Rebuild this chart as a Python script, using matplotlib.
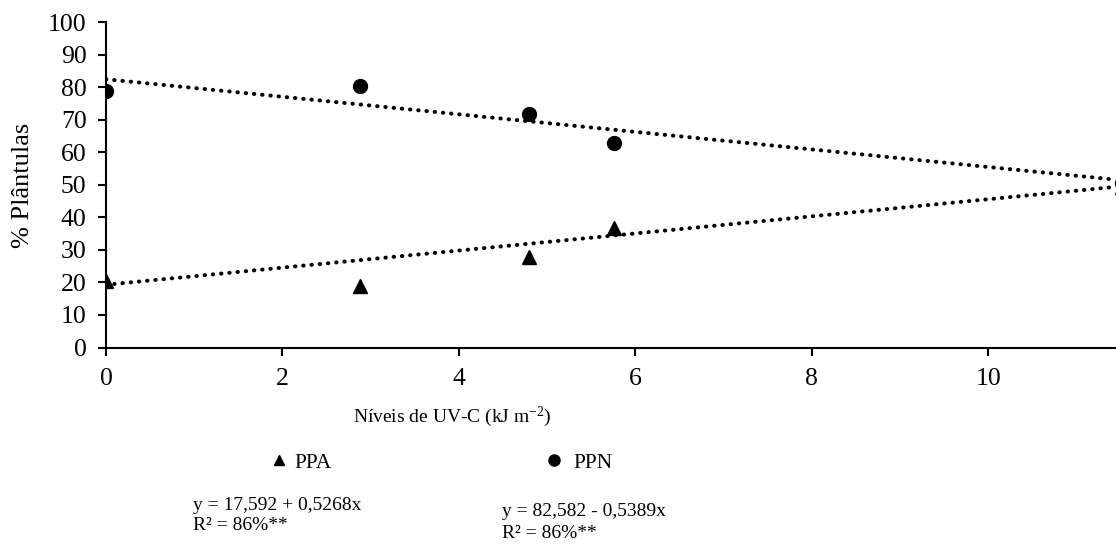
import matplotlib
matplotlib.use("Agg")
import matplotlib.pyplot as plt
from matplotlib.lines import Line2D

plt.rcParams["font.family"] = ["Liberation Serif", "DejaVu Serif"]
plt.rcParams["mathtext.fontset"] = "custom"
plt.rcParams["mathtext.rm"] = "Liberation Serif"

# UV-C levels (kJ m-2) and % seedlings
uv_levels = [0, 2.88, 4.8, 5.76, 11.52]
ppa = [20.5, 19.0, 27.8, 36.6, 49.5]
ppn = [78.9, 80.3, 71.9, 62.8, 50.5]

# trend lines as drawn in the source (values at start / end)
trend_x = [0, 11.45]
ppa_trend = [19.3, 49.4]
ppn_trend = [82.5, 51.6]

y_ticks = list(range(0, 101, 10))
x_ticks = [0, 2, 4, 6, 8, 10]

W, H = 1116, 550
fig = plt.figure(figsize=(W / 100, H / 100), dpi=100)
ax = fig.add_axes([106 / W, 1 - 347.5 / H, 1 - 106 / W, (347.5 - 22.3) / H])

dot = dict(color="black", lw=2.9, linestyle=(0, (0.1, 1.95)),
           dash_capstyle="round", zorder=2)
ax.plot(trend_x, ppa_trend, **dot)
ax.plot(trend_x, ppn_trend, **dot)
ax.plot(uv_levels, ppa, "^", color="black", ms=9.5, zorder=3)
ax.plot(uv_levels, ppn, "o", color="black", ms=10, zorder=3)

ax.set_xlim(0, 11.45)
ax.set_ylim(0, 100)
ax.set_xticks(x_ticks)
ax.set_yticks(y_ticks)
ax.tick_params(labelsize=18.5, direction="out", length=6, width=1.5, color="black")
ax.tick_params(axis="y", pad=8)
ax.tick_params(axis="x", pad=9)
for side in ["top", "right"]:
    ax.spines[side].set_visible(False)
for side in ["left", "bottom"]:
    ax.spines[side].set_linewidth(1.5)

ax.set_ylabel("% Plântulas", fontsize=19, labelpad=10)
fig.text(452 / W, 1 - 417 / H, "Níveis de UV-C (kJ m$\\mathregular{^{-2}}$)",
         fontsize=14, ha="center", va="center")

# legend entries placed under the axis
h_ppa = Line2D([], [], marker="^", color="black", ls="none", ms=7)
h_ppn = Line2D([], [], marker="o", color="black", ls="none", ms=8)
fig.legend([h_ppa], ["PPA"], loc="center", bbox_to_anchor=(302 / W, 1 - 463 / H),
           frameon=False, fontsize=15.5, handlelength=0.6, handletextpad=0.4)
fig.legend([h_ppn], ["PPN"], loc="center", bbox_to_anchor=(580 / W, 1 - 463 / H),
           frameon=False, fontsize=15.5, handlelength=0.6, handletextpad=0.6)

fig.text(193 / W, 1 - 505 / H, "y = 17,592 + 0,5268x", fontsize=14, va="center")
fig.text(193 / W, 1 - 526 / H, "R² = 86%**", fontsize=14, va="center")
fig.text(502 / W, 1 - 511 / H, "y = 82,582 - 0,5389x", fontsize=14, va="center")
fig.text(502 / W, 1 - 533 / H, "R² = 86%**", fontsize=14, va="center")

fig.savefig("out.png", dpi=100)
